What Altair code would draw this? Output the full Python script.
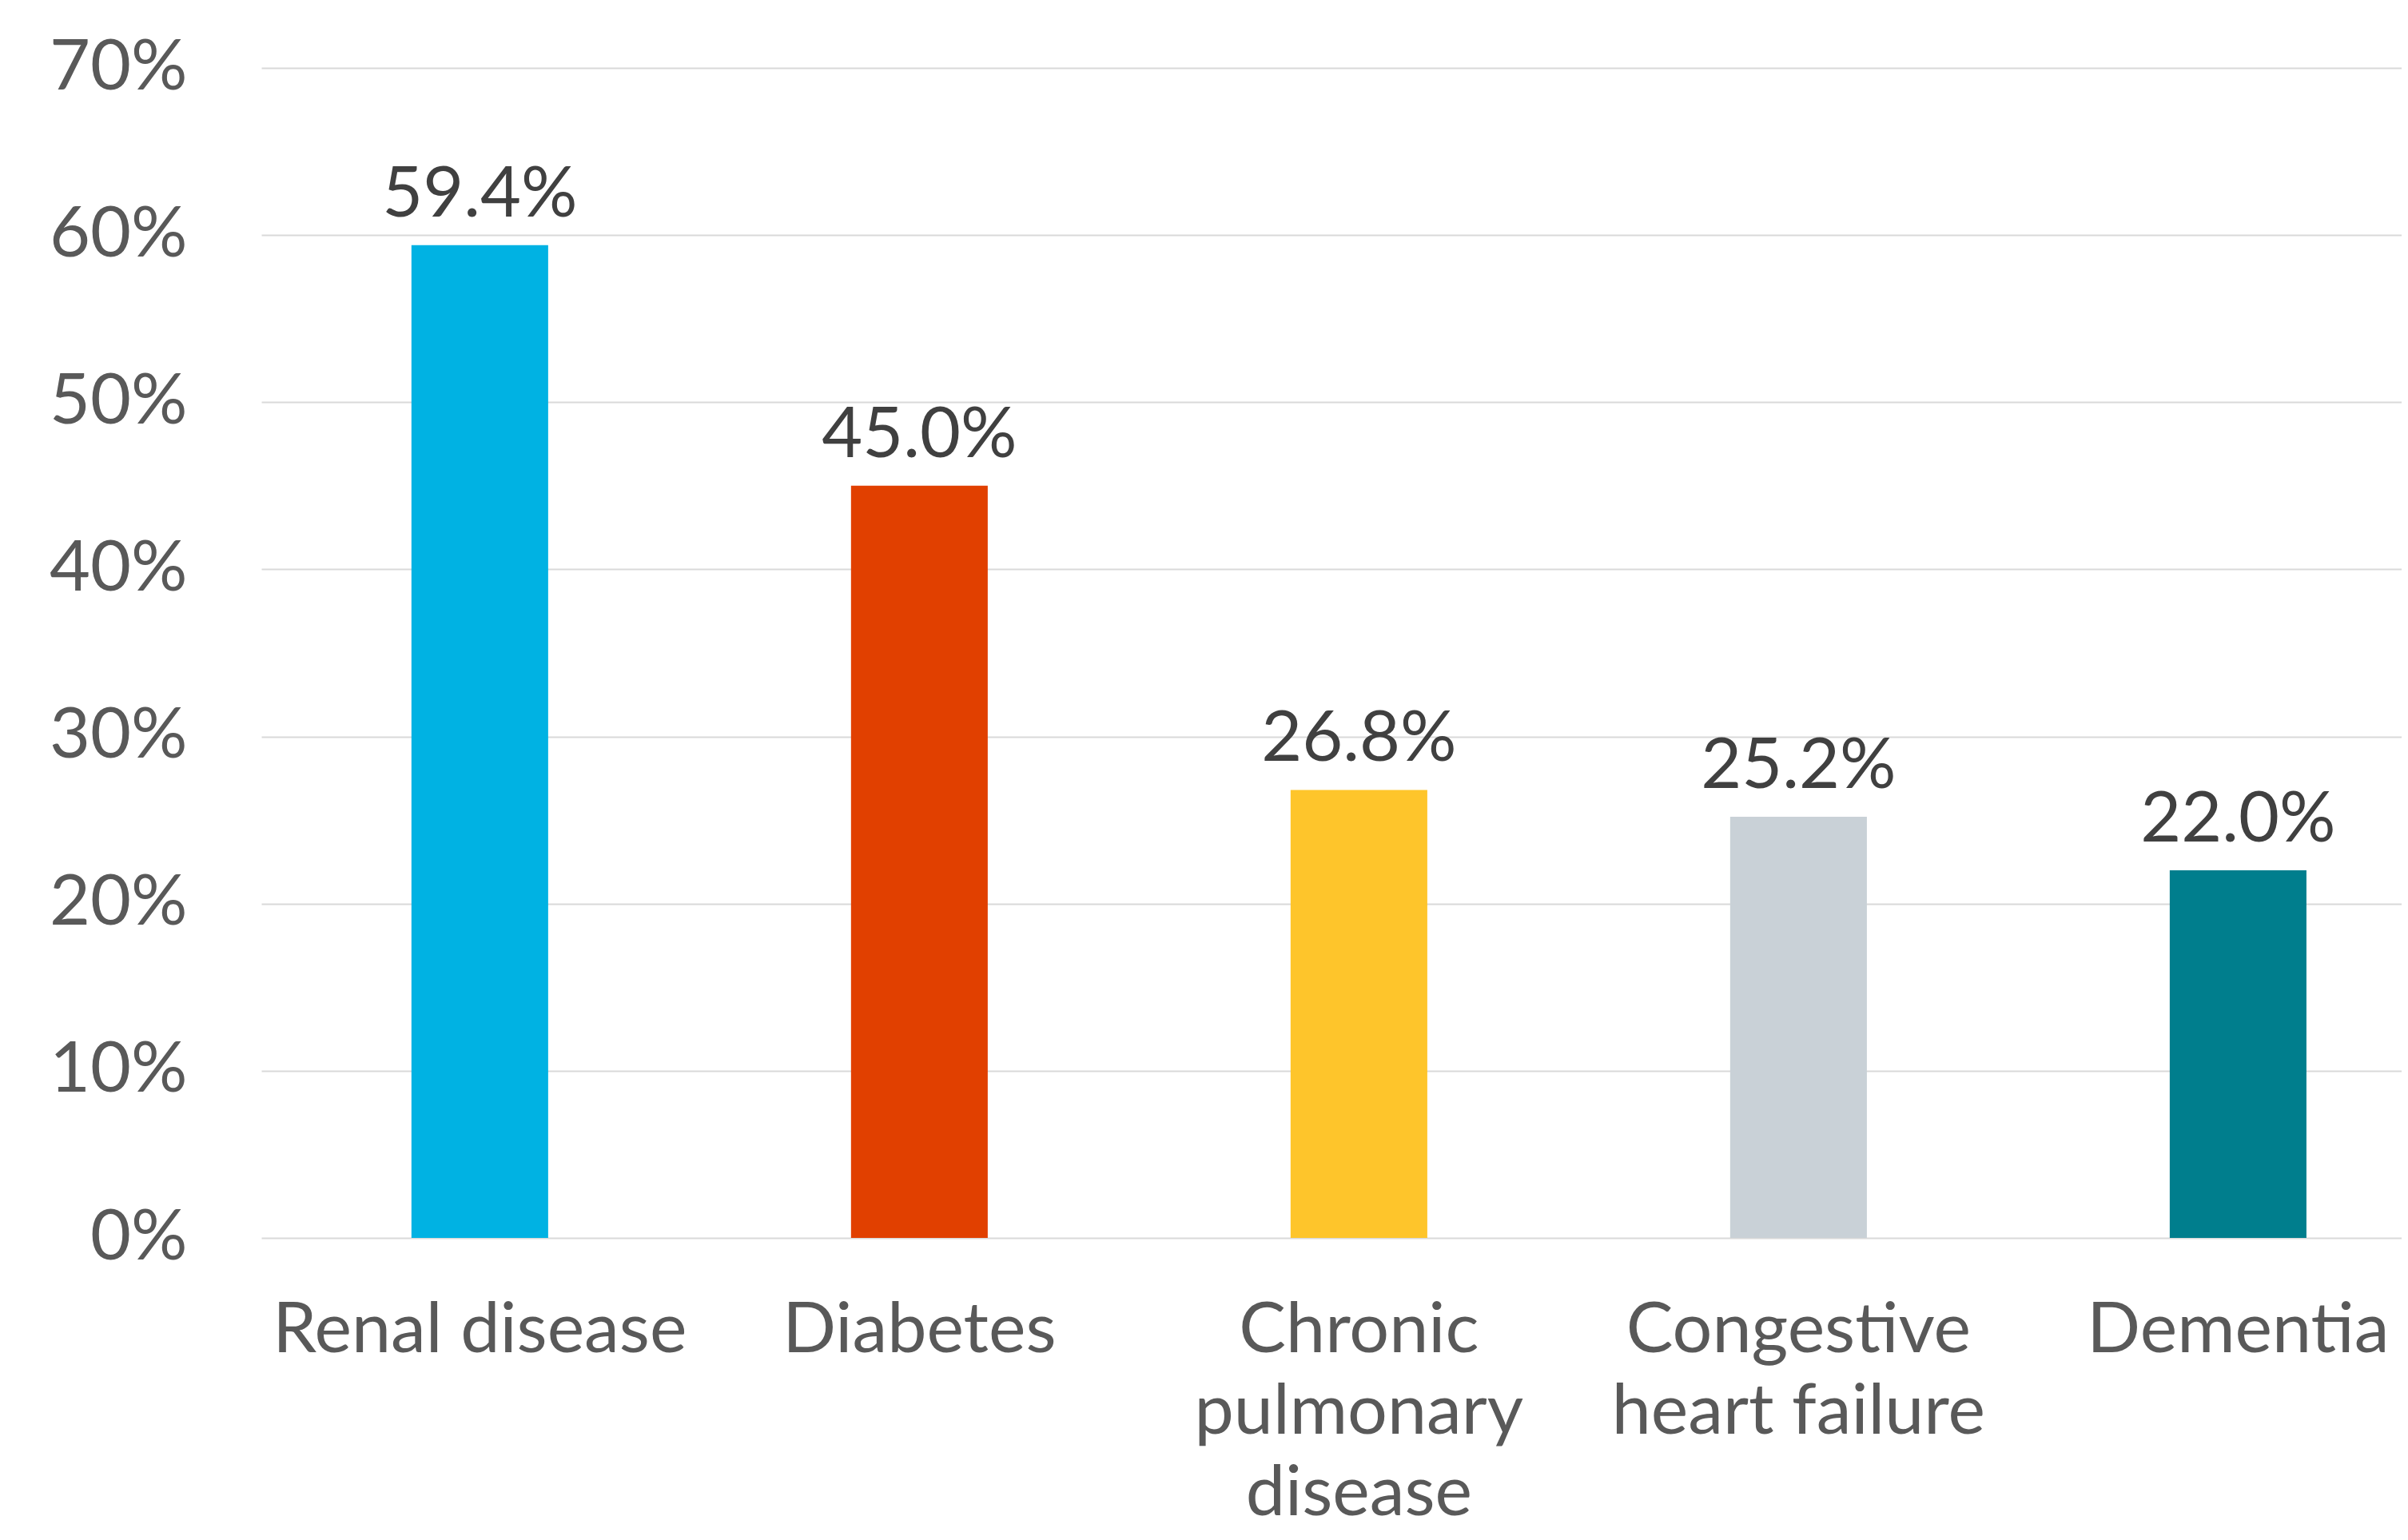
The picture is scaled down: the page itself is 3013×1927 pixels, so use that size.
import altair as alt
import pandas as pd

categories = ["Renal disease", "Diabetes", "Chronic pulmonary disease",
              "Congestive heart failure", "Dementia"]
label_lines = [["Renal disease"], ["Diabetes"], ["Chronic", "pulmonary", "disease"],
               ["Congestive", "heart failure"], ["Dementia"]]
values = [0.594, 0.450, 0.268, 0.252, 0.220]
colors = ["#00B2E3", "#E14000", "#FEC52B", "#C9D1D7", "#007E8D"]
y_ticks = [0, 0.1, 0.2, 0.3, 0.4, 0.5, 0.6, 0.7]

df = pd.DataFrame({"category": categories, "value": values})

# build label expression for multi-line x labels
expr = "datum.label"
for cat, lines in reversed(list(zip(categories, label_lines))):
    arr = "[" + ",".join("'" + l + "'" for l in lines) + "]"
    expr = f"datum.label == '{cat}' ? {arr} : ({expr})"

FONT = "Lato"
FS = 88

x = alt.X("category:N", sort=categories, title=None,
          scale=alt.Scale(paddingInner=0.689, paddingOuter=0.279, align=0.612),
          axis=alt.Axis(labelAngle=0, ticks=False, domain=False, grid=False,
                        labelFont=FONT, labelFontSize=FS, labelColor="#595959",
                        labelPadding=72, labelLineHeight=102, labelExpr=expr,
                        labelBaseline="top", labelLimit=0))
y = alt.Y("value:Q", title=None,
          scale=alt.Scale(domain=[0, 0.7], nice=False),
          axis=alt.Axis(values=y_ticks, format=".0%", ticks=False, domain=False,
                        grid=True, gridColor="#D9D9D9", gridWidth=2,
                        labelFont=FONT, labelFontSize=FS, labelColor="#595959",
                        labelPadding=93))

bars = alt.Chart(df).mark_bar().encode(
    x=x, y=y,
    color=alt.Color("category:N", sort=categories,
                    scale=alt.Scale(domain=categories, range=colors), legend=None),
)

text = alt.Chart(df).mark_text(font=FONT, fontSize=FS, color="#404040",
                               baseline="alphabetic", dy=-36).encode(
    x=alt.X("category:N", sort=categories),
    y=alt.Y("value:Q"),
    text=alt.Text("value:Q", format=".1%"),
)

chart = alt.layer(bars, text).properties(
    width=2678, height=1464,
    padding={"left": 319, "top": 77, "right": 0, "bottom": 370},
    autosize=alt.AutoSizeParams(type="none"),
    background="white",
).configure_view(stroke=None)

chart.save("out.html", embed_options={"renderer": "svg", "actions": False})
